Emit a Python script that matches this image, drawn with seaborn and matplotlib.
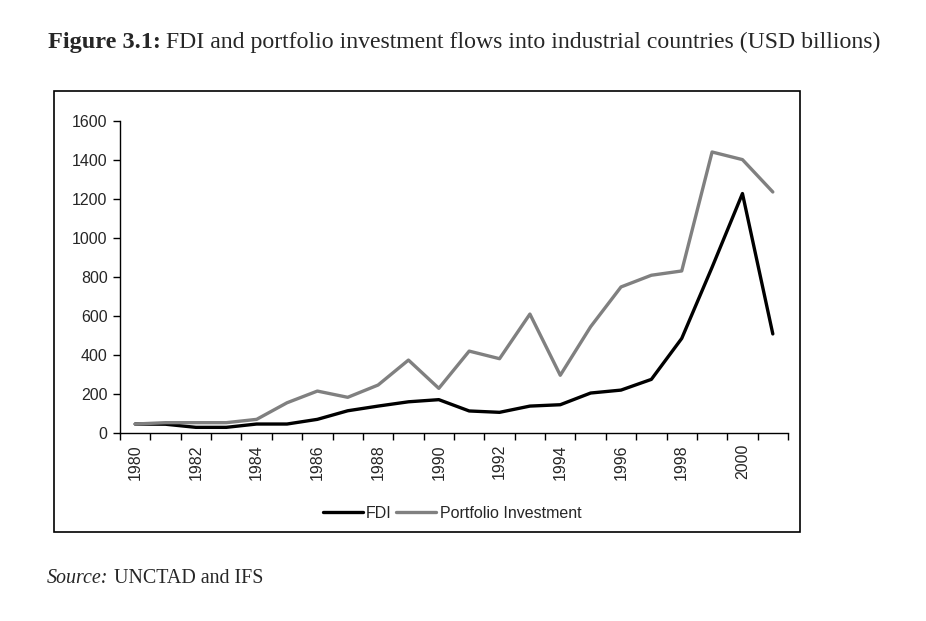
import numpy as np
import pandas as pd
import seaborn as sns
import matplotlib.pyplot as plt
from matplotlib.patches import Rectangle

years = list(range(1980, 2002))
fdi = [46, 45, 29, 29, 46, 46, 70, 114, 138, 160, 171, 113, 106, 138, 145,
       205, 220, 275, 485, 850, 1228, 508]
portfolio = [46, 53, 53, 53, 70, 155, 215, 183, 246, 374, 229, 420, 381, 610,
             296, 545, 749, 809, 831, 1441, 1402, 1236]
series_names = ['FDI', 'Portfolio Investment']
colors = ['black', '#808080']

df = pd.DataFrame({
    'year': years * 2,
    'value': fdi + portfolio,
    'series': [series_names[0]] * len(years) + [series_names[1]] * len(years),
})

sns.set_style('white')
plt.rcParams['font.family'] = ['Liberation Sans', 'DejaVu Sans']

W, H = 926, 621
fig = plt.figure(figsize=(W / 100, H / 100), dpi=100)
ax = fig.add_axes([120 / W, 1 - 433 / H, (788 - 120) / W, (433 - 121) / H])

sns.lineplot(data=df, x='year', y='value', hue='series', palette=colors,
             linewidth=2.4, ax=ax, legend=False)

ax.set_xlim(1979.5, 2001.5)
ax.set_ylim(0, 1600)
ax.set_yticks(range(0, 1601, 200))
ax.set_xticks(years[::2])
ax.set_xticklabels([str(y) for y in years[::2]], rotation=90)
ax.set_xticks(np.arange(1979.5, 2002, 1), minor=True)
ax.tick_params(axis='x', which='major', length=0, pad=8, labelsize=11.5)
ax.tick_params(axis='x', which='minor', length=5, width=1, color='black', direction='out')
ax.tick_params(axis='y', length=5, width=1, color='black', direction='out', labelsize=11.5, pad=4)
ax.tick_params(bottom=True, left=True, which='both')
ax.set_xlabel('')
ax.set_ylabel('')
for s in ['top', 'right']:
    ax.spines[s].set_visible(False)
for s in ['left', 'bottom']:
    ax.spines[s].set_color('black')
    ax.spines[s].set_linewidth(1)

handles = [plt.Line2D([], [], color=c, linewidth=2.4) for c in colors]
fig.legend(handles, series_names, loc='center', bbox_to_anchor=(452 / W, 1 - 513 / H),
           ncol=2, frameon=False, fontsize=11.5, handlelength=2.5, handletextpad=0.2,
           columnspacing=0.3)

fig.patches.append(Rectangle((54 / W, 1 - 532 / H), (800 - 54) / W, (532 - 91) / H,
                             transform=fig.transFigure, fill=False,
                             edgecolor='black', linewidth=1.2))

fig.text(48 / W, 1 - 48 / H, 'Figure 3.1:', family='Liberation Serif',
         fontweight='bold', fontsize=17.5, va='baseline')
fig.text(166 / W, 1 - 48 / H,
         'FDI and portfolio investment flows into industrial countries (USD billions)',
         family='Liberation Serif', fontsize=17.1, va='baseline')
fig.text(47 / W, 1 - 583 / H, 'Source:', family='Liberation Serif', style='italic',
         fontsize=14.4, va='baseline')
fig.text(114 / W, 1 - 583 / H, 'UNCTAD and IFS', family='Liberation Serif',
         fontsize=14.4, va='baseline')

fig.savefig('out.png', dpi=100)
